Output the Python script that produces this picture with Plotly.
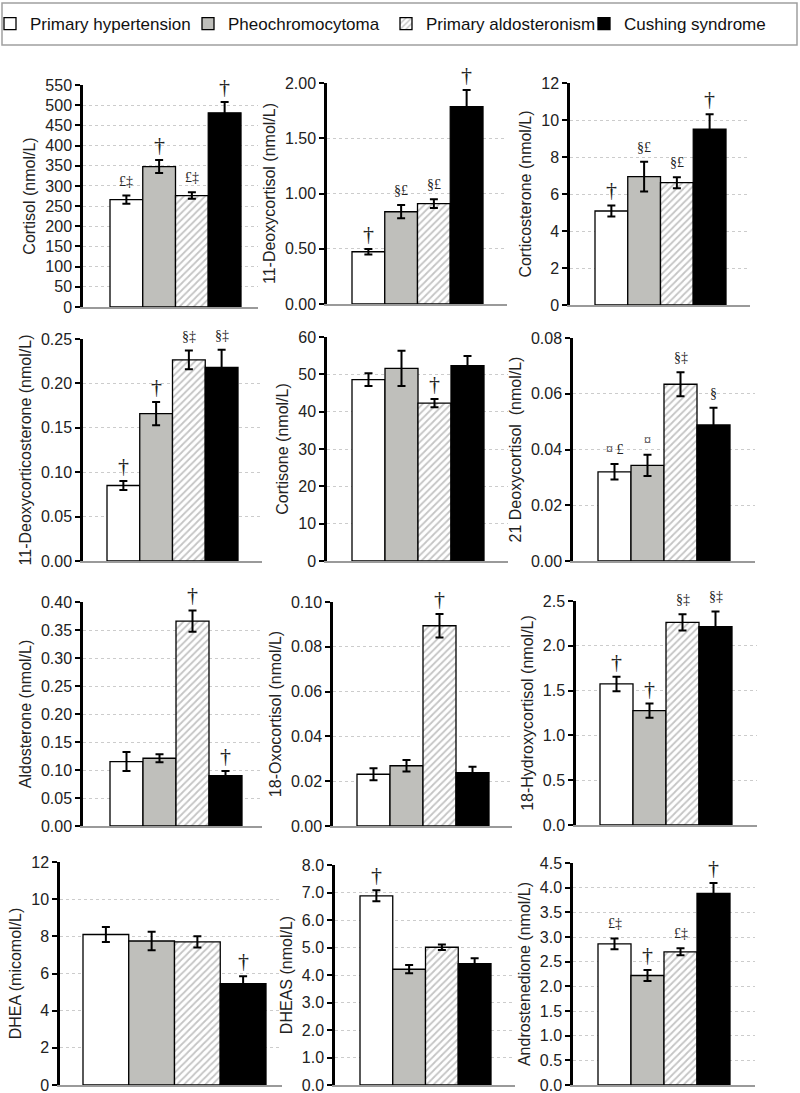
import plotly.graph_objects as go

W, H = 800, 1093

groups = ["Primary hypertension", "Pheochromocytoma", "Primary aldosteronism", "Cushing syndrome"]

# ---- data (value, error, significance marks) ----
cortisol = [266, 348, 276, 481]
cortisol_err = [10, 16, 8, 27]
cortisol_sig = ["£‡", "†", "£‡", "†"]

deoxycortisol11 = [0.473, 0.835, 0.908, 1.786]
deoxycortisol11_err = [0.025, 0.06, 0.04, 0.15]
deoxycortisol11_sig = ["†", "§£", "§£", "†"]

corticosterone = [5.08, 6.94, 6.61, 9.51]
corticosterone_err = [0.3, 0.8, 0.3, 0.8]
corticosterone_sig = ["†", "§£", "§£", "†"]

doc11 = [0.085, 0.166, 0.2265, 0.218]
doc11_err = [0.005, 0.013, 0.0105, 0.02]
doc11_sig = ["†", "†", "§‡", "§‡"]

cortisone = [48.6, 51.6, 42.3, 52.3]
cortisone_err = [1.7, 4.7, 1.1, 2.6]
cortisone_sig = ["", "", "†", ""]

deoxycortisol21 = [0.032, 0.0343, 0.0634, 0.0488]
deoxycortisol21_err = [0.0028, 0.0038, 0.0043, 0.0062]
deoxycortisol21_sig = ["¤ £", "¤", "§‡", "§"]

aldosterone = [0.115, 0.121, 0.366, 0.090]
aldosterone_err = [0.017, 0.007, 0.019, 0.008]
aldosterone_sig = ["", "", "†", "†"]

oxocortisol18 = [0.0231, 0.0269, 0.0894, 0.0238]
oxocortisol18_err = [0.0027, 0.0026, 0.0052, 0.0027]
oxocortisol18_sig = ["", "", "†", ""]

hydroxycortisol18 = [1.574, 1.276, 2.262, 2.213]
hydroxycortisol18_err = [0.08, 0.08, 0.09, 0.17]
hydroxycortisol18_sig = ["†", "†", "§‡", "§‡"]

dhea = [8.1, 7.75, 7.7, 5.45]
dhea_err = [0.4, 0.5, 0.3, 0.4]
dhea_sig = ["", "", "", "†"]

dheas = [6.88, 4.21, 5.01, 4.41]
dheas_err = [0.2, 0.15, 0.1, 0.2]
dheas_sig = ["†", "", "", ""]

androstenedione = [2.86, 2.22, 2.70, 3.886]
androstenedione_err = [0.11, 0.11, 0.07, 0.21]
androstenedione_sig = ["£‡", "†", "£‡", "†"]

titles = ["Cortisol (nmol/L)", "11-Deoxycortisol (nmol/L)", "Corticosterone (nmol/L)",
          "11-Deoxycorticosterone (nmol/L)", "Cortisone (nmol/L)", "21 Deoxycortisol  (nmol/L)",
          "Aldosterone (nmol/L)", "18-Oxocortisol (nmol/L)", "18-Hydroxycortisol (nmol/L)",
          "DHEA (micomol/L)", "DHEAS (nmol/L)", "Androstenedione (nmol/L)"]

values = [cortisol, deoxycortisol11, corticosterone, doc11, cortisone, deoxycortisol21,
          aldosterone, oxocortisol18, hydroxycortisol18, dhea, dheas, androstenedione]
errors = [cortisol_err, deoxycortisol11_err, corticosterone_err, doc11_err, cortisone_err,
          deoxycortisol21_err, aldosterone_err, oxocortisol18_err, hydroxycortisol18_err,
          dhea_err, dheas_err, androstenedione_err]
sigs = [cortisol_sig, deoxycortisol11_sig, corticosterone_sig, doc11_sig, cortisone_sig,
        deoxycortisol21_sig, aldosterone_sig, oxocortisol18_sig, hydroxycortisol18_sig,
        dhea_sig, dheas_sig, androstenedione_sig]

# axis scales: (max, step, format)
yscales = [(550, 50, "d"), (2.0, 0.5, ".2f"), (12, 2, "d"),
           (0.25, 0.05, ".2f"), (60, 10, "d"), (0.08, 0.02, ".2f"),
           (0.40, 0.05, ".2f"), (0.10, 0.02, ".2f"), (2.5, 0.5, ".1f"),
           (12, 2, "d"), (8.0, 1.0, ".1f"), (4.5, 0.5, ".1f")]

# ---- layout geometry in pixels: axis x, first bar left, last bar right, grid end, top y, zero y ----
geom = [(83, 110, 241, 258, 85, 307), (327, 352, 483, 507, 83, 304), (570, 595, 726, 750, 83, 305),
        (83, 107, 238, 262, 339, 561), (327, 352, 484, 508, 337, 561), (573, 598, 730, 755, 338, 561),
        (83, 110, 242, 262, 602, 826), (333, 357, 489, 512, 602, 826), (576, 600, 732, 757, 601, 825),
        (60, 83, 266, 282, 862, 1085), (335, 360, 491, 515, 865, 1085), (573, 598, 730, 755, 863, 1085)]

styles = [
    dict(marker_color="white"),
    dict(marker_color="#bfbfbb"),
    dict(marker_color="white", marker_pattern=dict(shape="/", fgcolor="#8a8a8a", bgcolor="white",
                                                   size=5, solidity=0.35)),
    dict(marker_color="black"),
]

FONT = "Liberation Sans Narrow, Arial Narrow, Liberation Sans, Arial, sans-serif"
SERIF = "Liberation Serif, Times New Roman, serif"

fig = go.Figure()
annotations = []
layout_axes = {}

for p in range(12):
    n = "" if p == 0 else str(p + 1)
    ax, b0, b1, ge, ty, zy = geom[p]
    w = (b1 - b0) / 4.0
    xmin = -0.5 - (b0 - ax) / w
    xmax = 3.5 + (ge - b1) / w
    ymax, step, fmt = yscales[p]
    for i in range(4):
        fig.add_trace(go.Bar(
            x=[i], y=[values[p][i]], width=1.0, name=groups[i],
            legendgroup=groups[i], showlegend=(p == 0),
            marker_line=dict(color="black", width=1.3),
            error_y=dict(type="data", array=[errors[p][i]], color="black", thickness=2, width=4),
            xaxis="x" + n, yaxis="y" + n, hoverinfo="y",
            **styles[i]))
        s = sigs[p][i]
        if s:
            dag = s == "†"
            annotations.append(dict(
                x=i, y=values[p][i] + errors[p][i], xref="x" + n, yref="y" + n,
                text=s, showarrow=False, yanchor="bottom", yshift=1 if dag else 5,
                font=dict(family=SERIF, size=22 if dag else 14, color="#222")))
    tickvals = []
    k = 0
    while k * step <= ymax + 1e-9:
        tickvals.append(round(k * step, 6))
        k += 1
    layout_axes["xaxis" + n] = dict(
        domain=[ax / W, ge / W], range=[xmin, xmax], anchor="y" + n,
        showticklabels=False, ticks="", showgrid=False, zeroline=False,
        showline=True, linecolor="#9a9a9a", linewidth=2, fixedrange=True)
    layout_axes["yaxis" + n] = dict(
        domain=[1 - zy / H, 1 - ty / H], range=[0, ymax], anchor="x" + n,
        tickvals=tickvals, tickformat=fmt, ticks="outside", ticklen=5, tickwidth=2,
        tickcolor="black", showline=True, linecolor="black", linewidth=2.5,
        showgrid=True, gridcolor="#cccccc", griddash="dot", gridwidth=1, zeroline=False,
        ticklabeloverflow="allow",
        tickfont=dict(family=FONT, size=16, color="#222"),
        title=dict(text=titles[p], font=dict(family=FONT, size=16, color="#222"), standoff=6),
        fixedrange=True)

fig.update_layout(
    width=W, height=H, margin=dict(l=0, r=0, t=0, b=0, autoexpand=False),
    paper_bgcolor="white", plot_bgcolor="white",
    barmode="overlay", annotations=annotations,
    legend=dict(orientation="h", x=0.0, y=1 - 24 / H, xanchor="left", yanchor="middle",
                font=dict(family=FONT, size=17, color="#111"), entrywidth=163,
                entrywidthmode="pixels", bgcolor="rgba(0,0,0,0)", traceorder="normal",
                indentation=-10),
    shapes=[dict(type="rect", xref="paper", yref="paper", x0=2 / W, x1=797 / W,
                 y0=1 - 45 / H, y1=1 - 3 / H, line=dict(color="#a0a0a0", width=1.5),
                 fillcolor="rgba(0,0,0,0)", layer="below")],
    **layout_axes)

fig.write_html(
    "out.html",
    config={"displayModeBar": False},
    post_script=("document.documentElement.style.margin='0';document.documentElement.style.padding='0';"
                 "document.documentElement.style.overflow='hidden';"
                 "document.body.style.margin='0';document.body.style.padding='0';"
                 "document.body.style.overflow='hidden';"))
